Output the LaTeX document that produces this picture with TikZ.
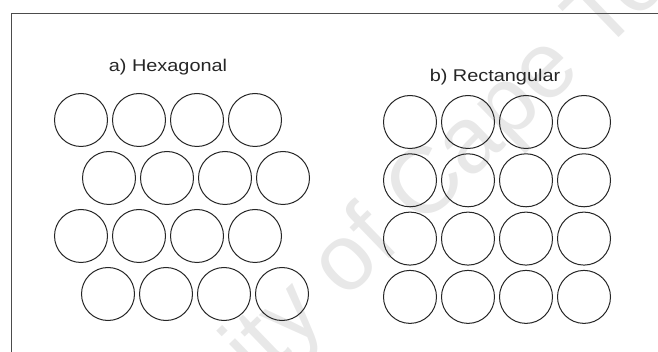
\documentclass[tikz,border=0pt]{standalone}
\usepackage{fontspec}
\setmainfont{Liberation Sans}
\usetikzlibrary{positioning}
\tikzset{
  ball/.style   = {draw=black!85, circle, line width=1pt, minimum size=53pt, inner sep=0pt},
  title/.style  = {font=\fontsize{17}{19}\selectfont, text=black!85, xscale=1.17},
  frame/.style  = {draw=black!70, line width=1pt},
  stamp/.style  = {text=black!9, font=\fontsize{94}{96}\selectfont, rotate=44},
}
\begin{document}
\begin{tikzpicture}[x=1pt, y=-1pt]
  \useasboundingbox (0,0) rectangle (658,352);
  \begin{scope}
    \clip (0,0) rectangle (658,352);
    \node[stamp] (wm) at (378,236) {University of Cape Town};
  \end{scope}
  \coordinate (fbl) at (11,352);
  \coordinate (ftl) at (11,14);
  \coordinate (ftr) at (658,14);
  \draw[frame] (fbl) -- (ftl) -- (ftr);
  \node[title] (hexlab) at (168,67) {a) Hexagonal};
  \node[title] (reclab) at (495,77) {b) Rectangular};
  % hexagonal packing
  \foreach \r/\xo in {1/81, 2/109, 3/81, 4/108} {
    \foreach \c in {1,...,4} {
      \node[ball] (h\r\c) at ({\xo+58*(\c-1)},{120+58*(\r-1)}) {};
    }
  }
  % rectangular packing
  \foreach \r in {1,...,4} {
    \foreach \c in {1,...,4} {
      \node[ball] (q\r\c) at ({410+58*(\c-1)},{122+58.3*(\r-1)}) {};
    }
  }
\end{tikzpicture}
\end{document}
